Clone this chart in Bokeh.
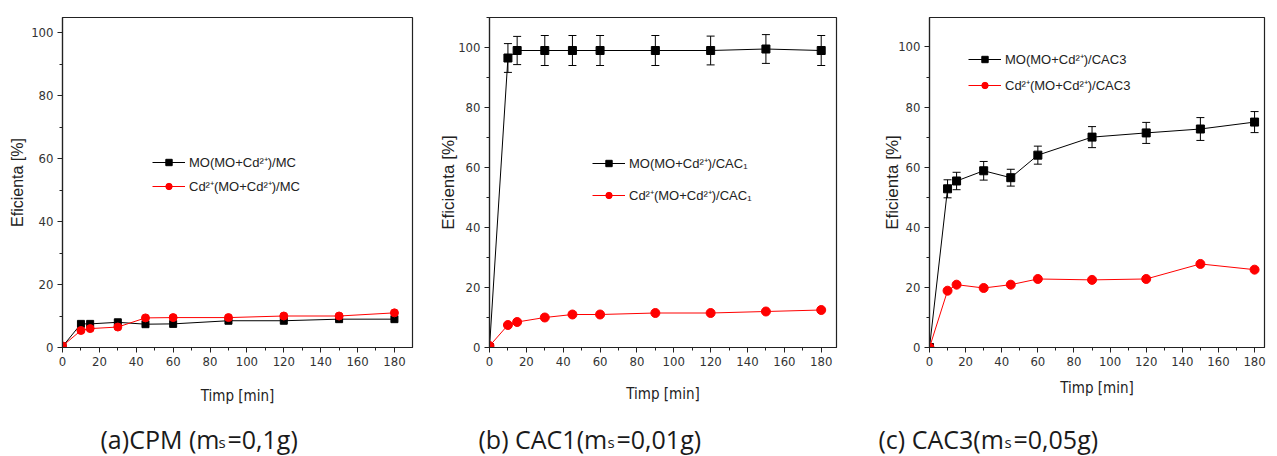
from bokeh.plotting import figure
from bokeh.layouts import row, column
from bokeh.models import (Range1d, SingleIntervalTicker, Legend, LegendItem, Whisker,
                          TeeHead, ColumnDataSource)
from bokeh.core.properties import value
from bokeh.embed import file_html
from bokeh.resources import INLINE

# ---------------- data ----------------
time_min = [0, 10, 15, 30, 45, 60, 90, 120, 150, 180]

# (a) CPM
a_mo = [0.3, 7.5, 7.5, 8.0, 7.4, 7.5, 8.5, 8.5, 9.0, 9.0]
a_cd = [0.5, 5.4, 6.0, 6.5, 9.4, 9.5, 9.5, 10.0, 10.0, 11.0]
# (b) CAC1
b_mo = [0.0, 96.5, 99.0, 99.0, 99.0, 99.0, 99.0, 99.0, 99.5, 99.0]
b_mo_err = [0.0, 4.8, 4.7, 5.0, 5.0, 5.0, 5.0, 4.8, 4.8, 5.0]
b_cd = [0.5, 7.5, 8.5, 10.0, 11.0, 11.0, 11.5, 11.5, 12.0, 12.5]
# (c) CAC3
c_mo = [0.0, 52.8, 55.4, 58.8, 56.5, 64.0, 70.0, 71.4, 72.7, 75.0]
c_mo_err = [0.0, 3.0, 2.9, 3.1, 2.8, 3.0, 3.5, 3.5, 3.8, 3.5]
c_cd = [0.0, 18.9, 20.9, 19.8, 20.9, 22.8, 22.5, 22.8, 27.8, 25.9]

x_ticks_interval = 20
y_ticks_interval = 20

legend_a = ["MO(MO+Cd²⁺)/MC", "Cd²⁺(MO+Cd²⁺)/MC"]
legend_b = ["MO(MO+Cd²⁺)/CAC₁", "Cd²⁺(MO+Cd²⁺)/CAC₁"]
legend_c = ["MO(MO+Cd²⁺)/CAC3", "Cd²⁺(MO+Cd²⁺)/CAC3"]

caption_main = ["(a)CPM (m", "(b) CAC1(m", "(c) CAC3(m"]
caption_sub = ["s", "s", "s"]
caption_tail = ["=0,1g)", "=0,01g)", "=0,05g)"]

x_label = "Timp [min]"
y_label = "Eficienta [%]"

NARROW = "'Liberation Sans Narrow', 'DejaVu Sans Condensed', 'Liberation Sans'"
CHART_H = 410


def make_panel(width, left, right, top, bottom, xr, yr, mo, cd, mo_err,
               labels, leg_loc, leg_spacing,
               ylab_standoff, xlab_standoff, msize_sq, msize_c, ylab_size):
    p = figure(width=width, height=CHART_H, output_backend="svg", toolbar_location=None,
               x_range=Range1d(*xr), y_range=Range1d(*yr),
               min_border_left=left, min_border_right=right,
               min_border_top=top, min_border_bottom=bottom)
    p.xgrid.visible = False
    p.ygrid.visible = False
    p.outline_line_color = "#222222"
    p.outline_line_width = 1.2
    p.background_fill_color = "white"
    p.border_fill_color = "white"

    p.xaxis.ticker = SingleIntervalTicker(interval=x_ticks_interval, num_minor_ticks=2)
    p.yaxis.ticker = SingleIntervalTicker(interval=y_ticks_interval, num_minor_ticks=2)
    for ax in (p.xaxis[0], p.yaxis[0]):
        ax.axis_line_color = "#222222"
        ax.axis_line_width = 1.2
        ax.major_tick_line_color = "#222222"
        ax.minor_tick_line_color = "#222222"
        ax.major_tick_out = 5
        ax.major_tick_in = 0
        ax.minor_tick_out = 3
        ax.minor_tick_in = 0
        ax.major_label_text_font = NARROW
        ax.major_label_text_font_size = "13px"
        ax.major_label_text_color = "#333333"
        ax.major_label_standoff = 4
        ax.axis_label_text_font_style = "normal"
        ax.axis_label_text_color = "#222222"
    p.xaxis.axis_label = x_label
    p.xaxis.axis_label_text_font = NARROW
    p.xaxis.axis_label_text_font_size = "15px"
    p.xaxis.axis_label_standoff = xlab_standoff
    p.yaxis.axis_label = y_label
    p.yaxis.axis_label_text_font = "Liberation Sans"
    p.yaxis.axis_label_text_font_size = ylab_size
    p.yaxis.axis_label_standoff = ylab_standoff

    up = [m + e for m, e in zip(mo, mo_err)] if mo_err else mo
    lo = [m - e for m, e in zip(mo, mo_err)] if mo_err else mo
    src = ColumnDataSource(dict(x=time_min, mo=mo, cd=cd, up=up, lo=lo))

    if mo_err:
        w = Whisker(base="x", upper="up", lower="lo", source=src,
                    line_color="black", line_width=1,
                    upper_head=TeeHead(size=8, line_color="black", line_width=1),
                    lower_head=TeeHead(size=8, line_color="black", line_width=1))
        p.add_layout(w)

    l1 = p.line("x", "mo", source=src, line_color="black", line_width=1)
    s1 = p.scatter("x", "mo", source=src, marker="square", size=msize_sq,
                   fill_color="black", line_color="black")
    l2 = p.line("x", "cd", source=src, line_color="#ff0000", line_width=1)
    s2 = p.scatter("x", "cd", source=src, marker="circle", size=msize_c,
                   fill_color="#ff0000", line_color="#ff0000")

    leg = Legend(items=[LegendItem(label=labels[0], renderers=[l1, s1]),
                        LegendItem(label=labels[1], renderers=[l2, s2])],
                 location=leg_loc, orientation="vertical",
                 glyph_width=33, glyph_height=16, label_height=16, label_standoff=4,
                 spacing=leg_spacing, padding=0, margin=0,
                 border_line_color=None, background_fill_alpha=0,
                 label_text_font="Liberation Sans", label_text_font_size="13px",
                 label_text_color="#222222")
    p.add_layout(leg, "center")
    return p


pa = make_panel(425, 62, 13, 15, 63, (0, 189.8), (0, 104.8), a_mo, a_cd, None,
                legend_a, (90, 152), 6, 2, 18, 7, 8, "16px")
pb = make_panel(425, 64, 14, 12, 63, (0, 188.3), (0, 110), b_mo, b_cd, b_mo_err,
                legend_b, (103, 143), 14, -3, 16, 8, 9, "17px")
pc = make_panel(427, 79, 13, 17, 59, (0, 185.5), (0, 109.8), c_mo, c_cd, c_mo_err,
                legend_c, (39, 253), 8, -7, 10, 8, 9, "17px")

# caption strip below the three charts (coordinates in pixels of the strip)
STRIP_H = 456 - CHART_H
cap = figure(width=1277, height=STRIP_H, output_backend="svg", toolbar_location=None,
             x_range=Range1d(0, 1277), y_range=Range1d(0, STRIP_H),
             min_border=0, min_border_left=0, min_border_right=0,
             min_border_top=0, min_border_bottom=0)
cap.axis.visible = False
cap.grid.visible = False
cap.outline_line_color = None
cap_src = ColumnDataSource(dict(
    x_main=[100, 478, 878], x_sub=[218, 607, 1004], x_tail=[227, 616, 1013],
    main=caption_main, sub=caption_sub, tail=caption_tail))
baseline = 18
cap.text(x="x_main", y=baseline, text="main", source=cap_src,
         text_font=value("Open Sans"), text_font_size="25px", text_color="#1a1a1a",
         text_baseline="alphabetic", text_align="left")
cap.text(x="x_sub", y=baseline - 3, text="sub", source=cap_src,
         text_font=value("Open Sans"), text_font_size="15px", text_color="#1a1a1a",
         text_baseline="alphabetic", text_align="left")
cap.text(x="x_tail", y=baseline, text="tail", source=cap_src,
         text_font=value("Open Sans"), text_font_size="25px", text_color="#1a1a1a",
         text_baseline="alphabetic", text_align="left")

layout = column(row(pa, pb, pc), cap)
open("out.html", "w").write(file_html(layout, INLINE))
